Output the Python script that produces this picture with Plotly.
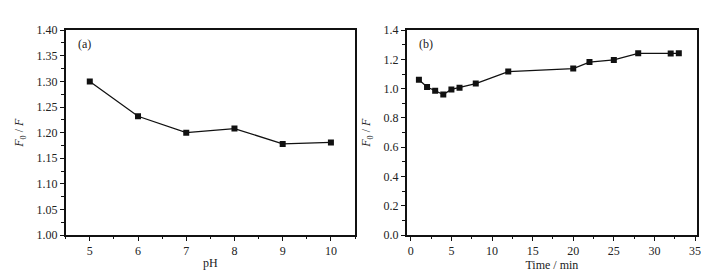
import plotly.graph_objects as go

ph = [5, 6, 7, 8, 9, 10]
ratio_ph = [1.300, 1.232, 1.200, 1.208, 1.178, 1.181]

time_min = [1, 2, 3, 4, 5, 6, 8, 12, 20, 22, 25, 28, 32, 33]
ratio_time = [1.062, 1.012, 0.986, 0.960, 0.995, 1.007, 1.035, 1.117, 1.138, 1.182, 1.197, 1.242, 1.240, 1.242]

W, H = 709, 273
def dx(p): return p / W
def dy(p): return 1 - p / H

fig = go.Figure()
mk = dict(symbol="square", size=6, color="#111111")
ln = dict(color="#111111", width=1.3)
fig.add_trace(go.Scatter(x=ph, y=ratio_ph, mode="lines+markers", marker=mk, line=ln,
                         xaxis="x", yaxis="y", showlegend=False))
fig.add_trace(go.Scatter(x=time_min, y=ratio_time, mode="lines+markers", marker=mk, line=ln,
                         xaxis="x2", yaxis="y2", showlegend=False))

font = dict(family="Liberation Serif", size=12, color="#222222")
common = dict(showline=True, linecolor="#111111", linewidth=1.5, mirror=True, ticks="outside",
              ticklen=4, tickwidth=1, tickcolor="#111111", showgrid=False, zeroline=False,
              tickfont=font)
ytitle = dict(text="<i>F</i><sub>0</sub> / <i>F</i>", font=font, standoff=10)

fig.update_layout(
    width=W, height=H, margin=dict(l=0, r=0, t=0, b=0),
    paper_bgcolor="white", plot_bgcolor="white", font=font,
    xaxis=dict(domain=[dx(58), dx(349)], range=[4.5, 10.5], tickvals=[5, 6, 7, 8, 9, 10],
               minor=dict(dtick=0.5, ticks="outside", ticklen=2.5, tickcolor="#111111"),
               title=dict(text="pH", font=font, standoff=1), anchor="y", **common),
    yaxis=dict(domain=[dy(232), dy(16)], range=[1.0, 1.4], dtick=0.05, tickformat=".2f",
               minor=dict(dtick=0.025, ticks="outside", ticklen=2.5, tickcolor="#111111"),
               title=ytitle, anchor="x", **common),
    xaxis2=dict(domain=[dx(401), dx(693)], range=[-0.5, 35.25], dtick=5,
                minor=dict(dtick=2.5, ticks="outside", ticklen=2.5, tickcolor="#111111"),
                title=dict(text="Time / min", font=font, standoff=1), anchor="y2", **common),
    yaxis2=dict(domain=[dy(232), dy(16)], range=[0, 1.4], dtick=0.2, tickformat=".1f",
                minor=dict(dtick=0.1, ticks="outside", ticklen=2.5, tickcolor="#111111"),
                title=ytitle, anchor="x2", **common),
    annotations=[
        dict(text="(a)", x=dx(68), y=dy(31), xref="paper", yref="paper",
             xanchor="left", yanchor="middle", showarrow=False, font=font),
        dict(text="(b)", x=dx(411), y=dy(31), xref="paper", yref="paper",
             xanchor="left", yanchor="middle", showarrow=False, font=font),
    ],
)

fig.write_html("out.html")
